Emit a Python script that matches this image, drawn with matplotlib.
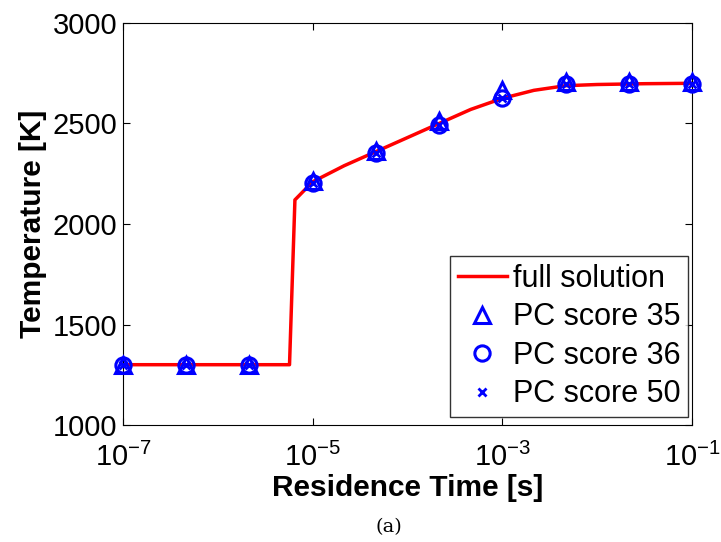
import numpy as np
from matplotlib import pyplot as plt

# residence time [s] and temperature [K] of the full solution
t_full = [1e-7, 5.7e-6, 6.5e-6, 1e-5, 2.15e-5, 4.64e-5, 1e-4, 2.15e-4, 4.64e-4,
          1e-3, 2.15e-3, 4.64e-3, 1e-2, 3.16e-2, 1e-1]
T_full = [1300, 1300, 2120, 2210, 2290, 2360, 2430, 2500, 2570,
          2625, 2665, 2688, 2694, 2698, 2700]

# sampled points for each PC score
t_pts = [1e-7, 4.64e-7, 2.15e-6, 1e-5, 4.64e-5, 2.15e-4, 1e-3, 4.64e-3, 2.15e-2, 1e-1]
T_pc35 = [1300, 1300, 1300, 2215, 2365, 2510, 2665, 2705, 2705, 2705]
T_pc36 = [1300, 1300, 1300, 2205, 2355, 2495, 2625, 2695, 2695, 2695]
T_pc50 = [1300, 1300, 1300, 2205, 2355, 2495, 2625, 2695, 2695, 2695]

plt.rcParams['font.family'] = ['Liberation Sans', 'DejaVu Sans']
plt.rcParams['mathtext.fontset'] = 'custom'
plt.rcParams['mathtext.rm'] = 'Liberation Sans'
plt.rcParams['mathtext.it'] = 'Liberation Sans:italic'
plt.rcParams['mathtext.bf'] = 'Liberation Sans:bold'

fig = plt.figure(figsize=(7.21, 5.42), dpi=100)
ax = fig.add_axes([123/721, 1 - 425/542, (692 - 123)/721, (425 - 23)/542])

ax.plot(t_full, T_full, color='red', lw=2.5, label='full solution', zorder=2)
ax.plot(t_pts, T_pc35, ls='none', marker='^', ms=12, mfc='none', mec='blue', mew=2.2,
        label='PC score 35', clip_on=False, zorder=3)
ax.plot(t_pts, T_pc36, ls='none', marker='o', ms=11, mfc='none', mec='blue', mew=2.2,
        label='PC score 36', clip_on=False, zorder=3)
ax.plot(t_pts, T_pc50, ls='none', marker='x', ms=6, mec='blue', mew=2,
        label='PC score 50', clip_on=False, zorder=3)

ax.set_xscale('log')
ax.set_xlim(1e-7, 1e-1)
ax.set_ylim(1000, 3000)
ax.set_xticks([1e-7, 1e-5, 1e-3, 1e-1])
ax.minorticks_off()
ax.set_yticks([1000, 1500, 2000, 2500, 3000])
ax.tick_params(direction='in', length=5, width=0.8, top=True, right=True,
               labelsize=21)
ax.tick_params(axis='x', pad=13)
ax.tick_params(axis='y', pad=4)

ax.set_xlabel('Residence Time [s]', fontsize=21.5, fontweight='bold', labelpad=1)
ax.set_ylabel('Temperature [K]', fontsize=21.5, fontweight='bold', labelpad=4)

leg = ax.legend(loc='lower right', bbox_to_anchor=(688/721, 1 - 417/542),
                bbox_transform=fig.transFigure, fontsize=22, frameon=True,
                fancybox=False, edgecolor='black', handlelength=1.6,
                handletextpad=0.2, borderpad=0.25, labelspacing=0.28,
                borderaxespad=0)
leg.get_frame().set_linewidth(1.0)

fig.text(389/721, 1 - 527/542, '(a)', ha='center', va='center', fontsize=14,
         family='DejaVu Serif')

fig.savefig('out.png', dpi=100)
